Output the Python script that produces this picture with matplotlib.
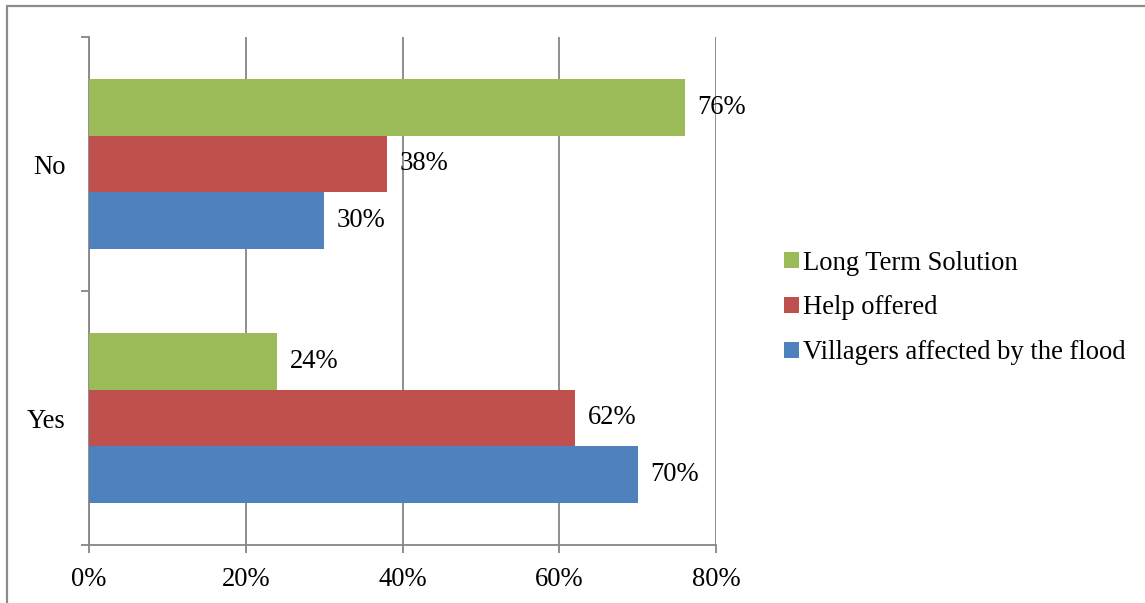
import matplotlib
matplotlib.use('Agg')
import matplotlib.pyplot as plt
from matplotlib.patches import Rectangle
import numpy as np

plt.rcParams['font.family'] = ['Liberation Serif', 'DejaVu Serif']

# data
categories = ['Yes', 'No']
series_names = ['Long Term Solution', 'Help offered', 'Villagers affected by the flood']
long_term = [24, 76]
help_offered = [62, 38]
villagers = [70, 30]
x_ticks = [0, 20, 40, 60, 80]
x_tick_labels = ['0%', '20%', '40%', '60%', '80%']

colors = ['#9BBB59', '#C0504D', '#4F81BD']
grid_gray = '#868686'
fs = 19.2

W, H = 1145, 603
fig = plt.figure(figsize=(W / 100, H / 100), dpi=100)
ax = fig.add_axes([89 / W, 1 - 545 / H, (716 - 89) / W, (545 - 37) / H])

# outer chart border (runs off the right and bottom edges)
fig.patches.append(Rectangle((7 / W, -0.05), 1.2, 1 - 6 / H + 0.05,
                             transform=fig.transFigure, fill=False,
                             edgecolor='#8c8c8c', linewidth=1.6, clip_on=False))

bar_h = 0.2222
y = np.arange(len(categories))
offsets = [bar_h, 0, -bar_h]
for vals, name, col, off in zip([long_term, help_offered, villagers], series_names, colors, offsets):
    bars = ax.barh(y + off, vals, height=bar_h, color=col, label=name, zorder=3)
    for b, v in zip(bars, vals):
        ax.annotate(f'{v}%', (b.get_width(), b.get_y() + b.get_height() / 2),
                    xytext=(9, 0), textcoords='offset points',
                    va='center', ha='left', fontsize=fs, zorder=4)

ax.set_xlim(0, 80)
ax.set_ylim(-0.5, 1.5)
ax.set_xticks(x_ticks)
ax.set_xticklabels(x_tick_labels, fontsize=fs)
ax.set_yticks([-0.5, 0.5, 1.5])
ax.set_yticklabels([])
ax.set_yticks(y, minor=True)
ax.set_yticklabels(categories, minor=True, fontsize=fs)
ax.tick_params(axis='y', which='minor', length=0, pad=17)
ax.tick_params(axis='y', which='major', length=6, color=grid_gray, width=1.3)
ax.tick_params(axis='x', length=6, color=grid_gray, width=1.3, pad=10)

ax.grid(axis='x', color=grid_gray, linewidth=1.3, zorder=0)
for s in ['top', 'right']:
    ax.spines[s].set_visible(False)
for s in ['left', 'bottom']:
    ax.spines[s].set_color(grid_gray)
    ax.spines[s].set_linewidth(1.3)

fig.legend(loc='center left', bbox_to_anchor=(771 / W, 1 - 308 / H), frameon=False,
           fontsize=fs, handlelength=0.55, handleheight=0.55, handletextpad=0.15,
           labelspacing=0.74, borderpad=0)

fig.savefig('out.png', dpi=100)
